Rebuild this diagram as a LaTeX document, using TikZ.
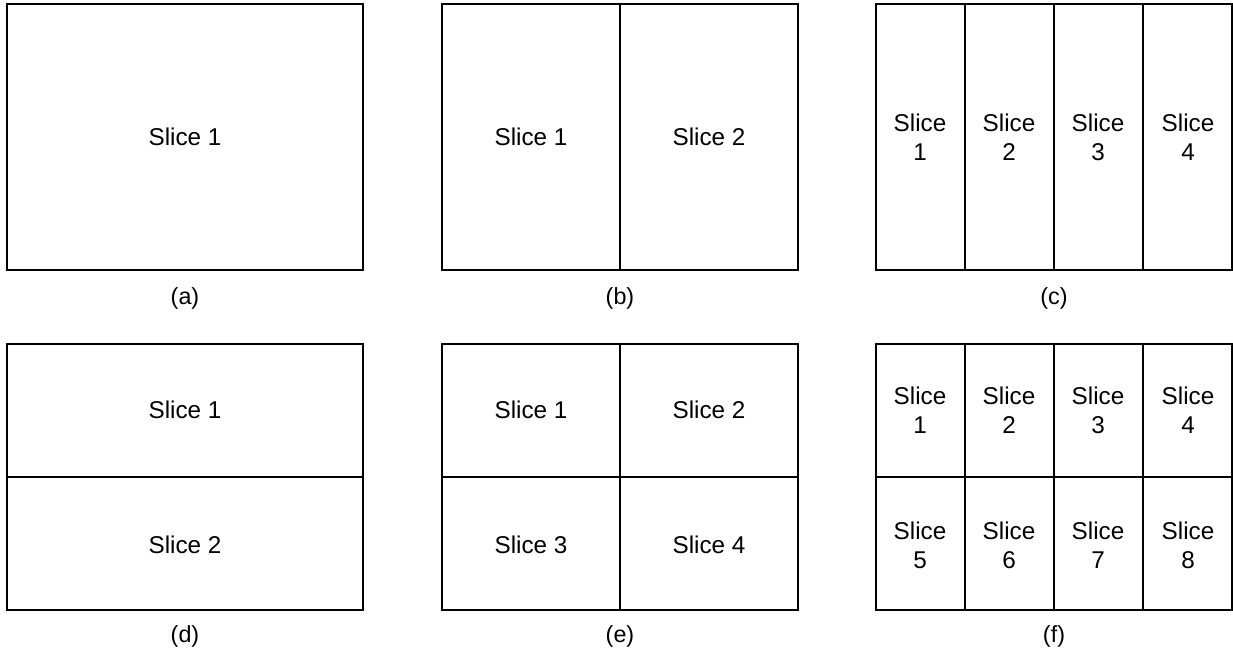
\documentclass[tikz,border=0pt]{standalone}
\usepackage{fontspec}
\setmainfont{Liberation Sans}
\begin{document}
\begin{tikzpicture}[
x=0.75pt,y=-0.75pt,
frame/.style={draw, line width=1.5pt},
divider/.style={draw, line width=0.8pt},
slice/.style={align=center, font=\fontsize{18.2}{21.5}\selectfont, inner sep=0pt},
caption/.style={font=\fontsize{17.5}{21}\selectfont, inner sep=0pt}
]
\useasboundingbox (0,0) rectangle (1233,651);
% (a)
\draw[frame] (7,4) rectangle (363,270);
\node[slice] (a1) at (185,137) {Slice 1};
\node[caption] (capa) at (185,298) {(a)};
% (b)
\draw[divider] (620,4) -- (620,270);
\draw[frame] (442,4) rectangle (798,270);
\node[slice] (b1) at (531,137) {Slice 1};
\node[slice] (b2) at (709,137) {Slice 2};
\node[caption] (capb) at (620,298) {(b)};
% (c)
\foreach \x in {965,1054,1143} \draw[divider] (\x,4) -- (\x,270);
\draw[frame] (876,4) rectangle (1232,270);
\node[slice] (c1) at (920,137) {Slice\\1};
\node[slice] (c2) at (1009,137) {Slice\\2};
\node[slice] (c3) at (1098,137) {Slice\\3};
\node[slice] (c4) at (1188,137) {Slice\\4};
\node[caption] (capc) at (1054,298) {(c)};
% (d)
\draw[divider] (7,477) -- (363,477);
\draw[frame] (7,344) rectangle (363,610);
\node[slice] (d1) at (185,410) {Slice 1};
\node[slice] (d2) at (185,545) {Slice 2};
\node[caption] (capd) at (185,636) {(d)};
% (e)
\draw[divider] (620,344) -- (620,610);
\draw[divider] (442,477) -- (798,477);
\draw[frame] (442,344) rectangle (798,610);
\node[slice] (e1) at (531,410) {Slice 1};
\node[slice] (e2) at (709,410) {Slice 2};
\node[slice] (e3) at (531,545) {Slice 3};
\node[slice] (e4) at (709,545) {Slice 4};
\node[caption] (cape) at (620,636) {(e)};
% (f)
\foreach \x in {965,1054,1143} \draw[divider] (\x,344) -- (\x,610);
\draw[divider] (876,477) -- (1232,477);
\draw[frame] (876,344) rectangle (1232,610);
\node[slice] (f1) at (920,410) {Slice\\1};
\node[slice] (f2) at (1009,410) {Slice\\2};
\node[slice] (f3) at (1098,410) {Slice\\3};
\node[slice] (f4) at (1188,410) {Slice\\4};
\node[slice] (f5) at (920,545) {Slice\\5};
\node[slice] (f6) at (1009,545) {Slice\\6};
\node[slice] (f7) at (1098,545) {Slice\\7};
\node[slice] (f8) at (1188,545) {Slice\\8};
\node[caption] (capf) at (1054,636) {(f)};
\end{tikzpicture}
\end{document}
